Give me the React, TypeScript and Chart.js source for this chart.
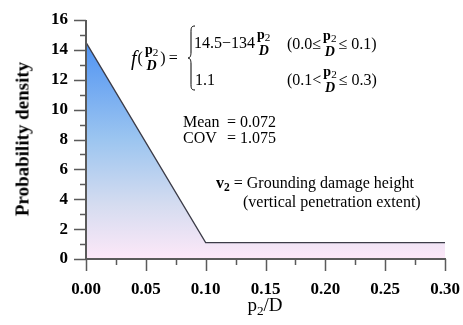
import React, { useEffect, useRef } from "react";
import { Chart, registerables } from "chart.js";

Chart.register(...registerables);

// Piecewise density of the normalised damage height p2/D
const ratio = [0.0, 0.1, 0.3];
const density = [14.5, 1.1, 1.1];

// Major tick values for each axis (minor ticks sit halfway between)
const xMajor = [0, 0.05, 0.1, 0.15, 0.2, 0.25, 0.3];
const yMajor = [0, 2, 4, 6, 8, 10, 12, 14, 16];

const serif = '"Liberation Serif", "Times New Roman", serif';

const axisPlugin = {
  id: "axisTicks",
  afterDatasetsDraw(chart: any) {
    const { ctx, chartArea, scales } = chart;
    const { left, bottom } = chartArea;
    const xs = scales.x;
    const ys = scales.y;
    ctx.save();
    ctx.strokeStyle = "#5a5a5a";
    // axis lines
    ctx.lineWidth = 2;
    ctx.beginPath();
    ctx.moveTo(left, ys.getPixelForValue(yMajor[yMajor.length - 1]));
    ctx.lineTo(left, bottom);
    ctx.lineTo(xs.getPixelForValue(xMajor[xMajor.length - 1]) + 1, bottom);
    ctx.stroke();
    ctx.lineWidth = 1.5;
    ctx.beginPath();
    xMajor.forEach((v, i) => {
      const px = Math.round(xs.getPixelForValue(v)) + 0.5;
      ctx.moveTo(px, bottom);
      ctx.lineTo(px, bottom + 12);
      if (i < xMajor.length - 1) {
        const m = Math.round(xs.getPixelForValue((v + xMajor[i + 1]) / 2)) + 0.5;
        ctx.moveTo(m, bottom);
        ctx.lineTo(m, bottom + 6);
      }
    });
    yMajor.forEach((v, i) => {
      const py = Math.round(ys.getPixelForValue(v)) + 0.5;
      ctx.moveTo(left, py);
      ctx.lineTo(left - 12, py);
      if (i < yMajor.length - 1) {
        const m = Math.round(ys.getPixelForValue((v + yMajor[i + 1]) / 2)) + 0.5;
        ctx.moveTo(left, m);
        ctx.lineTo(left - 6, m);
      }
    });
    ctx.stroke();
    ctx.restore();
  },
};

function Frac({ size = 14 }: { size?: number }) {
  return (
    <span
      style={{
        display: "inline-flex",
        flexDirection: "column",
        alignItems: "center",
        verticalAlign: "middle",
        fontSize: size,
        lineHeight: 1.15,
        margin: "0 2px",
      }}
    >
      <span style={{ fontWeight: "bold" }}>
        p<span style={{ fontSize: "0.8em", fontWeight: "normal", position: "relative", top: "0.15em" }}>2</span>
      </span>
      <span style={{ fontStyle: "italic", fontWeight: "bold" }}>D</span>
    </span>
  );
}

export default function App() {
  const canvasRef = useRef<HTMLCanvasElement>(null);

  useEffect(() => {
    const canvas = canvasRef.current;
    if (!canvas) return;
    const chart = new Chart(canvas, {
      type: "scatter",
      data: {
        datasets: [
          {
            data: ratio.map((x, i) => ({ x, y: density[i] })),
            showLine: true,
            borderColor: "#3c3c48",
            borderWidth: 1.3,
            pointRadius: 0,
            fill: "origin",
            backgroundColor: (c: any) => {
              const { chart: ch } = c;
              const area = ch.chartArea;
              if (!area) return "rgba(0,0,0,0)";
              const top = ch.scales.y.getPixelForValue(density[0]);
              const g = ch.ctx.createLinearGradient(0, top, 0, area.bottom);
              g.addColorStop(0, "#4f93f3");
              g.addColorStop(0.45, "#9cc5f0");
              g.addColorStop(0.75, "#d5dcf0");
              g.addColorStop(1, "#fde8f8");
              return g;
            },
          },
        ],
      },
      plugins: [axisPlugin],
      options: {
        animation: false,
        responsive: false,
        events: [],
        layout: { padding: { top: 20, right: 18, left: 0, bottom: 0 }, autoPadding: false },
        plugins: { legend: { display: false }, tooltip: { enabled: false } },
        scales: {
          x: {
            type: "linear",
            min: xMajor[0],
            max: xMajor[xMajor.length - 1],
            afterFit: (s: any) => {
              s.height = 66;
              s.paddingLeft = 0;
              s.paddingRight = 0;
            },
            afterBuildTicks: (s: any) => {
              s.ticks = xMajor.map((value) => ({ value }));
            },
            grid: { display: false, drawTicks: false },
            border: { display: false },
            ticks: {
              padding: 20,
              color: "#000",
              font: { family: serif, size: 17, weight: "bold" },
              callback: (v: any) => Number(v).toFixed(2),
            },
          },
          y: {
            type: "linear",
            min: yMajor[0],
            max: yMajor[yMajor.length - 1],
            afterFit: (s: any) => {
              s.width = 86;
              s.paddingTop = 0;
              s.paddingBottom = 0;
            },
            afterBuildTicks: (s: any) => {
              s.ticks = yMajor.map((value) => ({ value }));
            },
            grid: { display: false, drawTicks: false },
            border: { display: false },
            ticks: {
              padding: 18,
              color: "#000",
              font: { family: serif, size: 17, weight: "bold" },
            },
          },
        },
      },
    } as any);
    return () => chart.destroy();
  }, []);

  const text: React.CSSProperties = {
    position: "absolute",
    fontFamily: serif,
    fontSize: 16,
    color: "#000",
    whiteSpace: "nowrap",
    lineHeight: 1,
  };
  const row: React.CSSProperties = {
    ...text,
    transform: "translateY(-50%)",
    display: "flex",
    alignItems: "center",
  };

  return (
    <div style={{ position: "absolute", left: 0, top: 0, width: 463, height: 325, background: "#fff" }}>
      <canvas ref={canvasRef} width={463} height={325} style={{ width: 463, height: 325, display: "block" }} />

      {/* axis titles */}
      <div
        style={{
          ...text,
          fontSize: 19,
          fontWeight: "bold",
          left: 22,
          top: 139,
          transform: "translate(-50%, -50%) rotate(-90deg)",
        }}
      >
        Probability density
      </div>
      <div style={{ ...text, fontSize: 19, left: 265, top: 304, transform: "translate(-50%, -50%)" }}>
        p<span style={{ fontSize: "0.7em", position: "relative", top: "0.3em" }}>2</span>/D
      </div>

      {/* density definition */}
      <div style={{ ...row, left: 131, top: 58 }}>
        <span style={{ fontStyle: "italic", fontSize: 20, marginRight: 1 }}>f</span>
        <span>(</span>
        <Frac />
        <span>)&thinsp;=</span>
      </div>
      <svg style={{ position: "absolute", left: 187, top: 25 }} width={9} height={66} viewBox="0 0 9 66">
        <path
          d="M8 1 C4 1 4 3 4 8 L4 27 C4 31 3 33 1 33 C3 33 4 35 4 39 L4 58 C4 63 4 65 8 65"
          fill="none"
          stroke="#000"
          strokeWidth={1}
        />
      </svg>
      <div style={{ ...row, left: 194, top: 43 }}>
        <span>14.5−134</span>
        <Frac />
      </div>
      <div style={{ ...row, left: 287, top: 44 }}>
        <span>(0.0≤</span>
        <Frac />
        <span>≤ 0.1)</span>
      </div>
      <div style={{ ...text, left: 195, top: 80, transform: "translateY(-50%)" }}>1.1</div>
      <div style={{ ...row, left: 287, top: 80 }}>
        <span>(0.1&lt;</span>
        <Frac />
        <span>≤ 0.3)</span>
      </div>

      {/* summary statistics */}
      <div style={{ ...text, left: 183, top: 122, transform: "translateY(-50%)" }}>Mean</div>
      <div style={{ ...text, left: 227, top: 122, transform: "translateY(-50%)" }}>= 0.072</div>
      <div style={{ ...text, left: 183, top: 138, transform: "translateY(-50%)" }}>COV</div>
      <div style={{ ...text, left: 227, top: 138, transform: "translateY(-50%)" }}>= 1.075</div>

      {/* variable description */}
      <div style={{ ...text, left: 216, top: 183, transform: "translateY(-50%)" }}>
        <span style={{ fontWeight: "bold" }}>v</span>
        <span style={{ fontWeight: "bold", fontSize: "0.72em", position: "relative", top: "0.3em" }}>2</span>
        <span> = Grounding damage height</span>
      </div>
      <div style={{ ...text, left: 243, top: 202, transform: "translateY(-50%)" }}>(vertical penetration extent)</div>
    </div>
  );
}
